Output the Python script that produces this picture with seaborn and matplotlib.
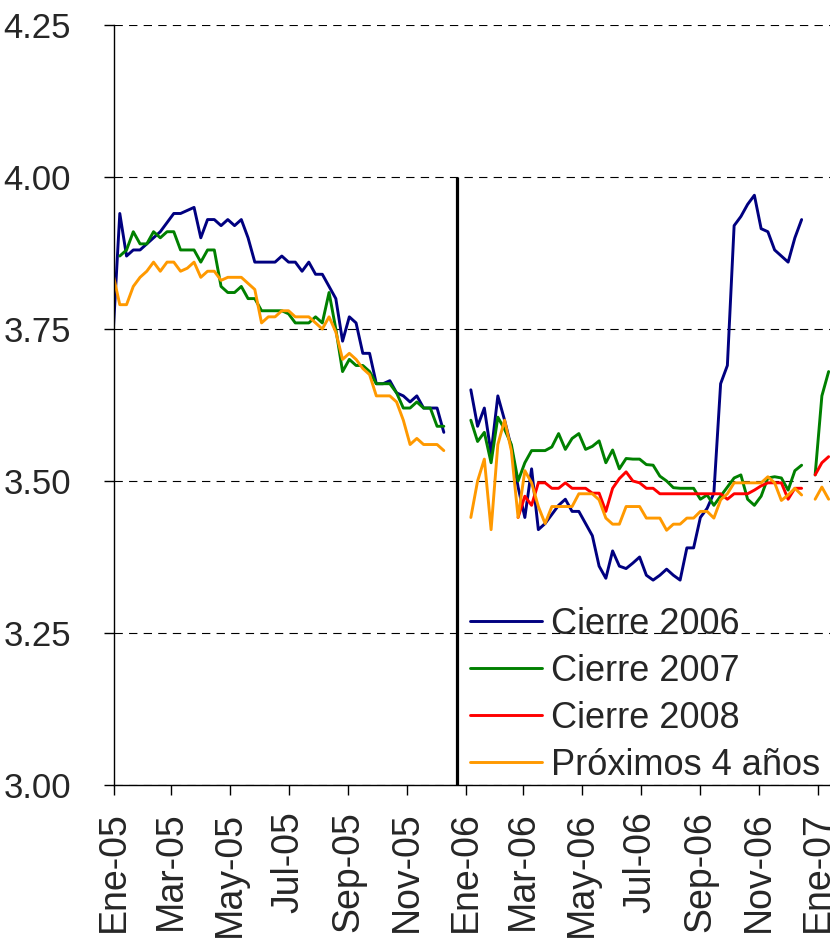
import numpy as np
import pandas as pd
import seaborn as sns
import matplotlib.pyplot as plt

# datos semanales (viernes), tres tramos separados
inicio_05, n_05 = '2004-12-31', 50
inicio_06, n_06 = '2006-01-06', 50
inicio_07, n_07 = '2006-12-29', 3

series = ['Cierre 2006', 'Cierre 2007', 'Cierre 2008', 'Próximos 4 años']
colores = ['#000080', '#008000', '#FF0000', '#FF9900']

cierre06_05 = [3.74, 3.94, 3.87, 3.88, 3.88, 3.89, 3.90, 3.91, 3.925, 3.94,
               3.94, 3.945, 3.95, 3.90, 3.93, 3.93, 3.92, 3.93, 3.92, 3.93,
               3.90, 3.86, 3.86, 3.86, 3.86, 3.87, 3.86, 3.86, 3.845, 3.86,
               3.84, 3.84, 3.82, 3.80, 3.73, 3.77, 3.76, 3.71, 3.71, 3.66,
               3.66, 3.665, 3.645, 3.64, 3.63, 3.64, 3.62, 3.62, 3.62, 3.58]
cierre07_05 = [np.nan, 3.87, 3.88, 3.91, 3.89, 3.89, 3.91, 3.90, 3.91, 3.91,
               3.88, 3.88, 3.88, 3.86, 3.88, 3.88, 3.82, 3.81, 3.81, 3.82,
               3.80, 3.80, 3.78, 3.78, 3.78, 3.78, 3.775, 3.76, 3.76, 3.76,
               3.77, 3.76, 3.81, 3.75, 3.68, 3.70, 3.69, 3.69, 3.68, 3.66,
               3.66, 3.66, 3.645, 3.62, 3.62, 3.63, 3.62, 3.62, 3.59, 3.59]
prox4_05 = [3.84, 3.79, 3.79, 3.82, 3.835, 3.845, 3.86, 3.845, 3.86, 3.86,
            3.845, 3.85, 3.86, 3.835, 3.845, 3.845, 3.83, 3.835, 3.835, 3.835,
            3.825, 3.815, 3.76, 3.77, 3.77, 3.78, 3.78, 3.77, 3.77, 3.77,
            3.76, 3.75, 3.77, 3.745, 3.70, 3.71, 3.70, 3.685, 3.675, 3.64,
            3.64, 3.64, 3.63, 3.60, 3.56, 3.57, 3.56, 3.56, 3.56, 3.55]

cierre06_06 = [3.65, 3.59, 3.62, 3.545, 3.64, 3.60, 3.555, 3.49, 3.44, 3.52,
               3.42, 3.43, 3.445, 3.46, 3.47, 3.45, 3.45, 3.43, 3.41, 3.36,
               3.34, 3.385, 3.36, 3.356, 3.365, 3.375, 3.345, 3.337, 3.345, 3.355,
               3.345, 3.337, 3.39, 3.39, 3.44, 3.455, 3.48, 3.66, 3.69, 3.92,
               3.935, 3.955, 3.97, 3.915, 3.91, 3.88, 3.87, 3.86, 3.90, 3.93]
cierre07_06 = [3.60, 3.565, 3.58, 3.53, 3.605, 3.585, 3.56, 3.50, 3.53, 3.55,
               3.55, 3.55, 3.556, 3.578, 3.552, 3.57, 3.578, 3.552, 3.557, 3.566,
               3.53, 3.551, 3.52, 3.537, 3.536, 3.536, 3.527, 3.526, 3.508, 3.50,
               3.489, 3.488, 3.488, 3.488, 3.47, 3.477, 3.46, 3.475, 3.49, 3.505,
               3.51, 3.47, 3.46, 3.475, 3.505, 3.507, 3.505, 3.485, 3.517, 3.526]
cierre08_06 = [np.nan] * 7 + [
               3.44, 3.475, 3.46, 3.497, 3.497, 3.488, 3.488, 3.497, 3.488, 3.488,
               3.488, 3.48, 3.48, 3.45, 3.488, 3.504, 3.515, 3.50, 3.497, 3.488,
               3.488, 3.479, 3.479, 3.479, 3.479, 3.479, 3.479, 3.479, 3.479, 3.479,
               3.479, 3.47, 3.479, 3.479, 3.479, 3.485, 3.492, 3.497, 3.497, 3.497,
               3.47, 3.488, 3.488]
prox4_06 = [3.44, 3.50, 3.536, 3.42, 3.56, 3.60, 3.55, 3.44, 3.517, 3.497,
            3.458, 3.43, 3.458, 3.458, 3.458, 3.458, 3.479, 3.479, 3.479, 3.469,
            3.439, 3.429, 3.429, 3.458, 3.458, 3.458, 3.439, 3.439, 3.439, 3.419,
            3.429, 3.429, 3.439, 3.439, 3.45, 3.45, 3.439, 3.469, 3.479, 3.497,
            3.497, 3.497, 3.497, 3.497, 3.507, 3.497, 3.468, 3.477, 3.488, 3.477]

cierre07_07 = [3.51, 3.64, 3.68]
cierre08_07 = [3.51, 3.53, 3.54]
prox4_07 = [3.47, 3.49, 3.47]

ticks_y = [3.00, 3.25, 3.50, 3.75, 4.00, 4.25]
ticks_x = ['2005-01-01', '2005-03-01', '2005-05-01', '2005-07-01', '2005-09-01',
           '2005-11-01', '2006-01-01', '2006-03-01', '2006-05-01', '2006-07-01',
           '2006-09-01', '2006-11-01', '2007-01-01']
etiquetas_x = ['Ene-05', 'Mar-05', 'May-05', 'Jul-05', 'Sep-05', 'Nov-05',
               'Ene-06', 'Mar-06', 'May-06', 'Jul-06', 'Sep-06', 'Nov-06', 'Ene-07']


def tramo(inicio, n, num, valores):
    fechas = pd.date_range(inicio, periods=n, freq='7D')
    partes = []
    for nombre, vals in valores.items():
        partes.append(pd.DataFrame({'fecha': fechas, 'valor': vals,
                                    'serie': nombre, 'tramo': num}))
    return pd.concat(partes)


df = pd.concat([
    tramo(inicio_05, n_05, 1, {'Cierre 2006': cierre06_05, 'Cierre 2007': cierre07_05,
                               'Próximos 4 años': prox4_05}),
    tramo(inicio_06, n_06, 2, {'Cierre 2006': cierre06_06, 'Cierre 2007': cierre07_06,
                               'Cierre 2008': cierre08_06, 'Próximos 4 años': prox4_06}),
    tramo(inicio_07, n_07, 3, {'Cierre 2007': cierre07_07, 'Cierre 2008': cierre08_07,
                               'Próximos 4 años': prox4_07}),
]).dropna()

sns.set_theme(style='white')
plt.rcParams['font.family'] = ['Liberation Sans', 'DejaVu Sans']
plt.rcParams['lines.scale_dashes'] = False

fig = plt.figure(figsize=(8.3, 9.41), dpi=100)
ax = fig.add_axes([114 / 830, 156 / 941, 716 / 830, 760 / 941])

sns.lineplot(data=df, x='fecha', y='valor', hue='serie', units='tramo', estimator=None,
             hue_order=series, palette=colores, linewidth=2.1, ax=ax)

ax.vlines(pd.Timestamp('2005-12-23'), 3.0, 4.0, color='black', lw=2.3, zorder=3)

ax.set_ylim(3.0, 4.25)
ax.set_xlim(pd.Timestamp('2005-01-01'), pd.Timestamp('2007-01-13 10:00'))
ax.set_yticks(ticks_y)
ax.set_yticklabels([f'{v:.2f}' for v in ticks_y], fontsize=25)
ax.set_xticks(pd.to_datetime(ticks_x))
ax.set_xticklabels(etiquetas_x, rotation=90, fontsize=27)
ax.set_xlabel('')
ax.set_ylabel('')
ax.tick_params(axis='both', direction='out', length=7, width=1, color='black',
               bottom=True, left=True)
ax.tick_params(axis='y', pad=24)
ax.tick_params(axis='x', pad=12)
ax.yaxis.grid(True, color='black', linestyle=(0, (6, 4.5)), linewidth=0.8)
for s in ['top', 'right']:
    ax.spines[s].set_visible(False)
for s in ['left', 'bottom']:
    ax.spines[s].set_color('black')
    ax.spines[s].set_linewidth(1)

handles, labels = ax.get_legend_handles_labels()
leg = ax.legend(handles, labels, loc='upper left',
                bbox_to_anchor=((470 - 114) / 716, (785 - 607) / 760),
                frameon=False, fontsize=26, handlelength=2.0, handletextpad=0.25,
                labelspacing=0.33, borderpad=0, borderaxespad=0)
for linea in leg.get_lines():
    linea.set_linewidth(2.1)

fig.savefig('out.png', dpi=100)
